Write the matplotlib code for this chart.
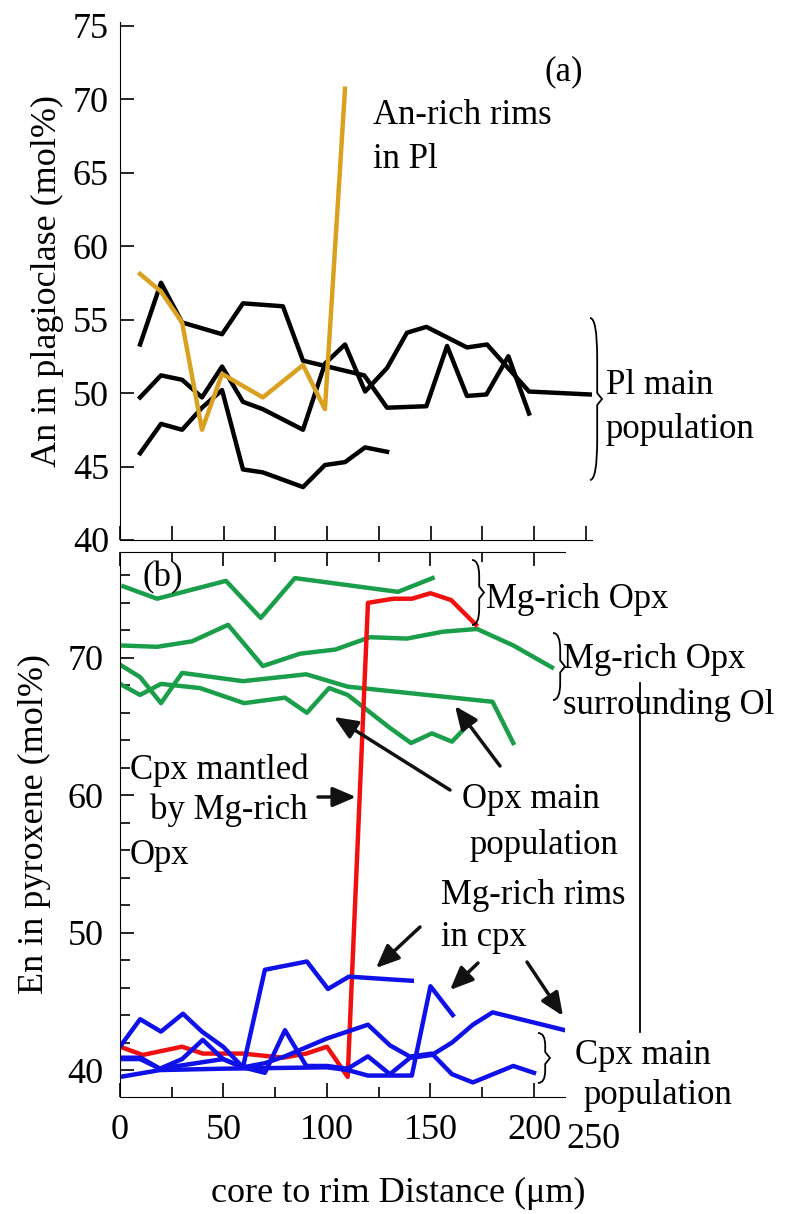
import matplotlib
matplotlib.use("Agg")
import matplotlib.pyplot as plt
import numpy as np
from matplotlib.path import Path
from matplotlib.patches import PathPatch, FancyArrowPatch

plt.rcParams['font.family'] = ['Liberation Serif', 'DejaVu Serif']

# Panel (a): An in plagioclase
pl1_x = [9.7, 19.8, 30, 49.3, 59.4, 78.7, 88.4, 118, 129, 148, 158, 167.6, 177, 187.6, 197.6]
pl1_y = [53.3, 57.5, 54.8, 54.0, 56.1, 55.9, 52.2, 51.2, 49.0, 49.1, 53.2, 49.8, 49.9, 52.5, 48.6]
pl2_x = [9.7, 19.8, 30, 39.6, 49.3, 59.4, 69, 88.4, 99, 108.7, 118.4, 129, 138.6, 148, 167.6, 177.3, 197.6, 227]
pl2_y = [49.7, 51.2, 50.9, 49.7, 51.8, 49.4, 48.9, 47.5, 52.0, 53.3, 50.1, 51.7, 54.1, 54.5, 53.1, 53.3, 50.1, 49.9]
pl3_x = [9.7, 19.8, 30, 39.6, 49.3, 59.4, 69, 88.4, 99, 108.7, 118.4, 129]
pl3_y = [45.9, 47.9, 47.5, 49.0, 50.2, 44.8, 44.6, 43.6, 45.1, 45.3, 46.3, 46.0]
an_rim_x = [9.7, 19.8, 30, 39.6, 49.3, 69, 88.4, 99, 108.7]
an_rim_y = [58.1, 56.9, 54.8, 47.5, 51.3, 49.7, 51.9, 48.9, 70.7]

# Panel (b): En in pyroxene
opx_mg_x = [1.6, 17.9, 51.2, 68, 84.5, 134.3, 151]
opx_mg_y = [75.2, 74.3, 75.6, 72.9, 75.8, 74.8, 75.8]
opx_ol_x = [0, 17.9, 34.8, 52.2, 69, 87, 104, 120.8, 138.6, 156, 172.5, 190, 208.7]
opx_ol_y = [70.9, 70.8, 71.2, 72.4, 69.4, 70.3, 70.6, 71.5, 71.4, 71.9, 72.1, 70.9, 69.3]
opx1_x = [0, 9.7, 19.8, 30, 59.4, 90, 110, 180, 190]
opx1_y = [69.5, 68.6, 66.7, 68.9, 68.3, 68.8, 67.9, 66.8, 63.8]
opx2_x = [0, 9.7, 19.8, 38.6, 60, 79.7, 90.3, 101, 110, 130.4, 140.6, 150.7, 160.4, 170.5]
opx2_y = [68.1, 67.3, 68.1, 67.8, 66.7, 67.1, 66.0, 67.8, 67.3, 64.9, 63.8, 64.5, 63.9, 65.5]
cpx_mant_x = [0, 11, 30, 40, 59.4, 78.7, 90, 100, 110, 119.8, 132, 141, 150, 160, 172]
cpx_mant_y = [41.7, 41.1, 41.7, 41.2, 41.2, 40.9, 41.2, 41.7, 39.5, 74.0, 74.3, 74.3, 74.7, 74.2, 72.4]
cpxA_x = [0, 10, 19.3, 49.8, 59.4, 70, 90.3, 100.5, 110.6, 130.4, 141]
cpxA_y = [40.9, 40.9, 40.1, 40.8, 40.2, 47.3, 47.9, 45.9, 46.8, 46.6, 46.5]
cpxB_x = [0, 9.7, 19.8, 30.4, 39.6, 49.8, 59.4, 70, 79.7, 100, 119.8, 130.4, 141, 150.7, 160.4, 170.5, 180, 215]
cpxB_y = [41.7, 43.7, 42.8, 44.1, 42.8, 41.7, 40.2, 40.5, 41.0, 42.3, 43.3, 41.8, 40.9, 41.1, 42.0, 43.3, 44.2, 42.9]
cpxC_x = [0, 9.7, 19.3, 30, 40, 49.8, 59.4, 70, 79.7, 90, 100, 110, 119.8, 130.4, 141, 150.7, 160.4, 170.5, 190, 200]
cpxC_y = [40.8, 40.8, 40.1, 40.8, 42.2, 40.8, 40.2, 39.8, 42.9, 40.3, 40.3, 40.1, 41.0, 39.7, 41.0, 41.2, 39.7, 39.1, 40.3, 39.8]
cpxD_x = [0, 19.3, 49.8, 100, 110, 119.8, 141, 150, 160.8]
cpxD_y = [39.5, 40.0, 40.1, 40.2, 40.0, 39.6, 39.6, 46.1, 44.0]

W, H = 798, 1214
fig = plt.figure(figsize=(W/100, H/100), dpi=100)

def ax_px(l, t, r, b):
    return fig.add_axes([l/W, 1-b/H, (r-l)/W, (b-t)/H])

def fx(px): return px/W
def fy(py): return 1-py/H

FS = 26
LW = 3.2
axa = ax_px(120, 22, 592, 540)
axa.set_xlim(0, 228)
axa.set_ylim(40, 75.24)
for x, y in [(pl1_x, pl1_y), (pl2_x, pl2_y), (pl3_x, pl3_y)]:
    axa.plot(x, y, color='black', lw=LW)
axa.plot(an_rim_x, an_rim_y, color='#DAA020', lw=LW)
axa.set_yticks(np.arange(40, 76, 5))
axa.set_xticks(np.arange(0, 229, 25))
axa.set_xticklabels([])
axa.tick_params(direction='in', length=10, width=1.2, labelsize=FS, pad=8)
axa.spines['top'].set_visible(False)
axa.spines['right'].set_visible(False)
axa.set_ylabel('An in plagioclase (mol%)', fontsize=FS, labelpad=6)

axb = ax_px(120, 552, 565, 1097)
axb.set_xlim(0, 215)
axb.set_ylim(38.04, 77.7)
for x, y in [(opx_mg_x, opx_mg_y), (opx_ol_x, opx_ol_y), (opx1_x, opx1_y), (opx2_x, opx2_y)]:
    axb.plot(x, y, color='#1A9E4A', lw=LW)
axb.plot(cpx_mant_x, cpx_mant_y, color='#F01010', lw=LW)
for x, y in [(cpxA_x, cpxA_y), (cpxB_x, cpxB_y), (cpxC_x, cpxC_y), (cpxD_x, cpxD_y)]:
    axb.plot(x, y, color='#1010E8', lw=LW)
axb.set_xticks([0, 50, 100, 150, 200])
axb.set_xticks(np.arange(25, 215, 50), minor=True)
axb.set_yticks([40, 50, 60, 70])
axb.set_yticks(np.arange(40, 78, 2), minor=True)
axb.tick_params(which='major', direction='in', length=10, width=1.2, labelsize=FS, pad=12, top=True)
axb.tick_params(which='minor', direction='in', length=7, width=1.2, top=True)
axb.spines['right'].set_visible(False)
axb.set_ylabel('En in pyroxene (mol%)', fontsize=FS, labelpad=12)
fig.text(fx(593), fy(1140), '250', fontsize=FS, ha='center', va='center')
fig.text(fx(398), fy(1193), 'core to rim Distance (\u03bcm)', fontsize=FS, ha='center', va='center')

def t(x, y, s, **kw):
    fig.text(fx(x), fy(y), s, fontsize=25, va='center', **kw)

t(545, 72, '(a)')
t(373, 115, 'An-rich rims')
t(373, 160, 'in Pl')
t(606, 385, 'Pl main')
t(606, 430, 'population')
t(143, 578, '(b)')
t(486, 600, 'Mg-rich Opx')
t(563, 660, 'Mg-rich Opx')
t(563, 705, 'surrounding Ol')
t(130, 770, 'Cpx mantled')
t(150, 810, 'by Mg-rich')
t(130, 855, 'Opx')
t(462, 800, 'Opx main')
t(470, 845, 'population')
t(441, 895, 'Mg-rich rims')
t(441, 937, 'in cpx')
t(575, 1055, 'Cpx main')
t(583, 1095, 'population')

def arrow(x0, y0, x1, y1):
    fig.patches.append(FancyArrowPatch((fx(x0), fy(y0)), (fx(x1), fy(y1)), transform=fig.transFigure,
                                       arrowstyle='-|>,head_length=14,head_width=6', mutation_scale=1,
                                       lw=2.5, color='#111111', shrinkA=0, shrinkB=0))

arrow(318, 797, 356, 797)
arrow(450, 790, 334, 717)
arrow(500, 766, 455, 706)
arrow(420, 927, 376, 968)
arrow(478, 963, 450, 990)
arrow(527, 962, 563, 1016)

def brace(x, y0, y1, w):
    ym = (y0+y1)/2
    v = [(x, y0), (x+w*0.6, y0), (x+w*0.6, y0+(ym-y0)*0.5), (x+w*0.6, ym-6), (x+w, ym),
         (x+w*0.6, ym+6), (x+w*0.6, y1-(y1-ym)*0.5), (x+w*0.6, y1), (x, y1)]
    c = [Path.MOVETO, Path.CURVE3, Path.CURVE3, Path.LINETO, Path.LINETO,
         Path.LINETO, Path.LINETO, Path.CURVE3, Path.CURVE3]
    vv = [(fx(px), fy(py)) for px, py in v]
    fig.patches.append(PathPatch(Path(vv, c), transform=fig.transFigure, fill=False, lw=1.3, color='black'))

brace(472, 560, 625, 12)
brace(553, 633, 700, 12)
brace(590, 318, 480, 12)
brace(538, 1033, 1083, 12)
fig.lines.append(plt.Line2D([fx(640), fx(640)], [fy(683), fy(1032)], transform=fig.transFigure, color='black', lw=1.3))

fig.savefig('out.png', dpi=100)
